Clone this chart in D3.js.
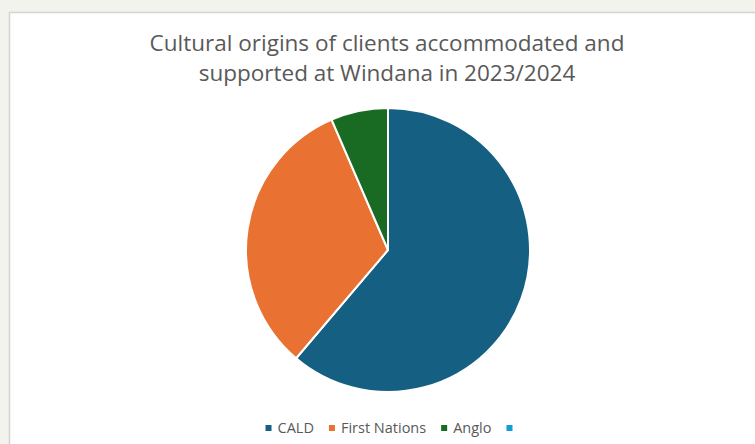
<!DOCTYPE html>
<html lang="en">
<head>
  <meta charset="UTF-8">
  <title>Cultural origins of clients</title>
  <style>
    html, body { margin: 0; padding: 0; background: #f3f3ee; }
    * { font-family: 'Open Sans', 'Noto Sans', sans-serif; }
  </style>
</head>
<body>
  <div id="chart"></div>
  <script src="https://cdnjs.cloudflare.com/ajax/libs/d3/7.8.5/d3.min.js"></script>
  <script>
    // Chart data
    const categories = ['CALD', 'First Nations', 'Anglo', ''];
    const values = [61.2, 32.3, 6.5, 0];
    const colors = ['#156082', '#e97132', '#196b24', '#0f9ed5'];
    const titleLines = ['Cultural origins of clients accommodated and', 'supported at Windana in 2023/2024'];

    const W = 755, H = 444;
    const cx = 388, cy = 250, radius = 142;

    const svg = d3.select('#chart').append('svg')
      .attr('width', W)
      .attr('height', H);

    // Chart area (white panel that runs off the right and bottom)
    svg.append('rect')
      .attr('x', 9.5).attr('y', 12.5)
      .attr('width', W).attr('height', H)
      .attr('fill', '#fff')
      .attr('stroke', '#d4d4d0')
      .attr('stroke-width', 1.5);

    // Title
    svg.append('text')
      .attr('x', cx).attr('y', 51)
      .attr('text-anchor', 'middle')
      .style('font-size', '22.5px')
      .style('fill', '#595959')
      .selectAll('tspan')
      .data(titleLines).enter()
      .append('tspan')
      .attr('x', cx - 1)
      .attr('dy', (d, i) => i === 0 ? 0 : 30)
      .text(d => d);

    const color = d3.scaleOrdinal().domain(categories).range(colors);

    const pie = d3.pie().sort(null).value(d => d.value);
    const arc = d3.arc().innerRadius(0).outerRadius(radius);

    const data = categories.map((c, i) => ({ name: c, value: values[i] }));

    svg.append('g')
      .attr('transform', `translate(${cx}, ${cy})`)
      .selectAll('path')
      .data(pie(data).filter(d => d.data.value > 0))
      .enter().append('path')
      .attr('d', arc)
      .attr('fill', d => color(d.data.name))
      .attr('stroke', '#fff')
      .attr('stroke-width', 2);

    // Legend
    const legend = svg.append('g').attr('transform', 'translate(0, 428)');
    const widths = [];
    const tmp = legend.append('text').style('font-size', '14.5px');
    categories.forEach(c => {
      tmp.text(c);
      widths.push(tmp.node().getComputedTextLength());
    });
    tmp.remove();

    const sw = 6, gap = 6, itemGap = 15;
    const itemW = widths.map(w => sw + gap + w);
    const total = d3.sum(itemW) + itemGap * (categories.length - 1);
    let x = cx - total / 2 + 4;

    categories.forEach((c, i) => {
      const g = legend.append('g').attr('transform', `translate(${x}, 0)`);
      g.append('rect')
        .attr('x', 0).attr('y', -3)
        .attr('width', sw).attr('height', sw)
        .attr('fill', color(c));
      g.append('text')
        .attr('x', sw + gap).attr('y', 0)
        .attr('dy', '0.35em')
        .style('font-size', '14.5px')
        .style('fill', '#595959')
        .text(c);
      x += itemW[i] + itemGap;
    });
  </script>
</body>
</html>
